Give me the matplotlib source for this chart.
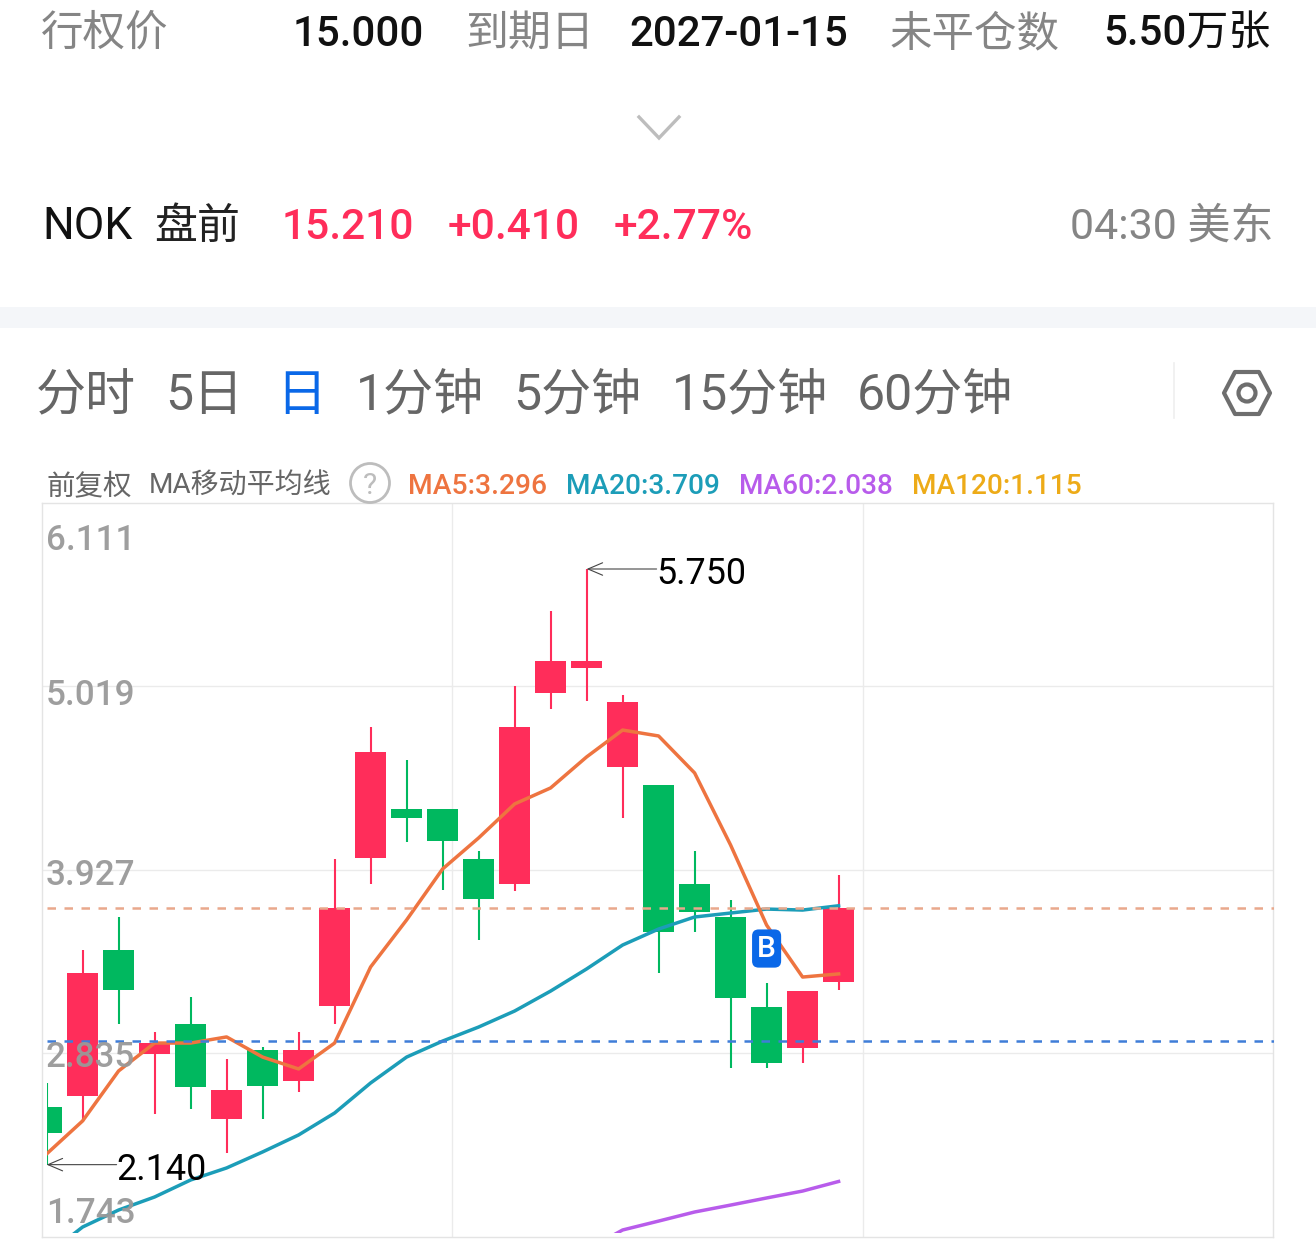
import matplotlib
matplotlib.use("Agg")
import matplotlib.pyplot as plt
from matplotlib.patches import Circle, Polygon, Rectangle

# Daily candles, oldest first
opens = [2.489, 2.556, 3.441, 2.811, 2.992, 2.417, 2.835, 2.647, 3.102, 3.998, 4.295, 4.295,
         3.992, 3.841, 4.998, 5.150, 4.550, 4.441, 3.841, 3.641, 3.095, 2.847, 3.247]
closes = [2.332, 3.302, 3.198, 2.877, 2.611, 2.592, 2.617, 2.835, 3.695, 4.641, 4.241, 4.102,
          3.750, 4.792, 5.192, 5.192, 4.944, 3.550, 3.671, 3.150, 2.756, 3.192, 3.695]
highs = [2.635, 3.441, 3.641, 2.944, 3.156, 2.780, 2.853, 2.944, 3.992, 4.792, 4.592, 4.295,
         4.041, 5.041, 5.495, 5.750, 4.986, 4.441, 4.041, 3.744, 3.241, 3.192, 3.895]
lows = [2.140, 2.398, 2.992, 2.447, 2.477, 2.211, 2.417, 2.580, 2.992, 3.841, 4.095, 3.805,
        3.502, 3.798, 4.902, 4.950, 4.241, 3.302, 3.550, 2.726, 2.726, 2.756, 3.198]

# Moving averages
ma5 = [2.205, 2.405, 2.708, 2.877, 2.877, 2.914, 2.792, 2.720, 2.877, 3.338, 3.623, 3.932,
       4.120, 4.326, 4.423, 4.611, 4.774, 4.738, 4.514, 4.077, 3.592, 3.277, 3.296]
ma20 = [1.592, 1.762, 1.865, 1.944, 2.047, 2.120, 2.217, 2.320, 2.453, 2.635, 2.792, 2.889,
        2.974, 3.071, 3.192, 3.326, 3.471, 3.568, 3.641, 3.665, 3.689, 3.683, 3.709]
ma60_start = 15
ma60 = [1.623, 1.744, 1.798, 1.853, 1.895, 1.938, 1.980, 2.038]

# Reference levels and price-scale labels
cost_level = 2.889
last_level = 3.695
scale_levels = [6.111, 5.019, 3.927, 2.835, 1.743]
month_breaks = [11.28, 22.69]
buy_index = 20
buy_price = 3.468

UP, DOWN = "#FF2D5A", "#00B85F"
MA5_C, MA20_C, MA60_C, MA120_C = "#EE7440", "#1C9DB8", "#B85CEB", "#EDAB18"
BLUE = "#0A68E8"
FONT = ["Roboto", "Noto Sans CJK SC"]
W, H = 1316, 1245
PX = 0.72  # points per pixel at 100 dpi

fig = plt.figure(figsize=(W / 100, H / 100), dpi=100, facecolor="white")


def axes_px(x0, y0, x1, y1, **kw):
    return fig.add_axes([x0 / W, 1 - y1 / H, (x1 - x0) / W, (y1 - y0) / H], **kw)


# Price grid with its own scale
xlim = (-4 / 36, (1273 - 46) / 36)
grid_ax = axes_px(42, 502.5, 1273, 1237)
grid_ax.set_xlim(*xlim)
grid_ax.set_ylim(scale_levels[-1], scale_levels[0])
grid_ax.set_yticks(scale_levels[1:-1])
grid_ax.set_xticks(month_breaks)
grid_ax.grid(True, color="#EBEBEB", lw=1.0)
grid_ax.tick_params(length=0, labelleft=False, labelbottom=False)
for s in grid_ax.spines.values():
    s.set_color("#E4E4E4")
    s.set_linewidth(1.0)

# Candles and moving averages
ax = axes_px(46.6, 503, 1273.6, 1232.5)
ax.patch.set_alpha(0)
ax.set_xlim(0, xlim[1])
ax.set_ylim(5.75 - (1232.5 - 569) / 165, 5.75 + (569 - 503) / 165)
ax.axis("off")

idx = list(range(len(opens)))
colors = [UP if c >= o else DOWN for o, c in zip(opens, closes)]
ax.vlines(idx, lows, highs, colors=colors, lw=1.5, zorder=2)
ax.bar(idx, [abs(c - o) for o, c in zip(opens, closes)],
       bottom=[min(o, c) for o, c in zip(opens, closes)],
       width=31 / 36, color=colors, linewidth=0, zorder=3)

ax.plot(idx, ma20, color=MA20_C, lw=2.5, zorder=4, solid_joinstyle="round")
ax.plot(idx, ma5, color=MA5_C, lw=2.5, zorder=5, solid_joinstyle="round")
ax.plot(range(ma60_start, ma60_start + len(ma60)), ma60, color=MA60_C, lw=2.5, zorder=4)

dash = (0, (3.4, 3.4))
ax.axhline(last_level, color="#E9A88C", lw=1.8, ls=dash, zorder=6)
ax.axhline(cost_level, color="#3F7DD8", lw=1.8, ls=dash, zorder=6)

# High and low callouts
arrow = dict(arrowstyle="->,head_length=0.75,head_width=0.32", color="#444444", lw=0.8,
             shrinkA=0, shrinkB=0, mutation_scale=14)
for i, price in [(highs.index(max(highs)), max(highs)), (lows.index(min(lows)), min(lows))]:
    ax.annotate("", xy=(i, price), xytext=(70, 0), textcoords="offset pixels",
                arrowprops=arrow, zorder=7, annotation_clip=False)
    ax.annotate(f"{price:.3f}", xy=(i, price), xytext=(70, -15), textcoords="offset pixels",
                fontsize=36 * PX, family=FONT, color="black", va="baseline", ha="left", zorder=7)

# Buy badge
ax.annotate("B", xy=(buy_index, buy_price), ha="center", va="center_baseline", color="white",
            fontsize=30 * PX, family=FONT, fontweight="medium", zorder=9,
            bbox=dict(boxstyle="round,pad=0.17,rounding_size=0.22", fc=BLUE, ec="none"))

# Page furniture, laid out in pixels
ui = fig.add_axes([0, 0, 1, 1], zorder=10)
ui.patch.set_alpha(0)
ui.set_xlim(0, W)
ui.set_ylim(H, 0)
ui.axis("off")


def label(x, y, s, size, color, ha="left", weight="normal", alpha=None):
    ui.text(x, y, s, fontsize=size * PX, color=color, ha=ha, va="baseline",
            family=FONT, fontweight=weight, alpha=alpha)


GRAY = "#858585"
label(41, 46, "行权价", 42.5, GRAY)
label(293, 46, "15.000", 42, "#111111", weight="medium")
label(465, 46, "到期日", 43, GRAY)
label(629, 46, "2027-01-15", 42, "#111111", weight="medium")
label(890, 46, "未平仓数", 42.5, GRAY)
label(1271, 46, "5.50万张", 42, "#111111", ha="right", weight="medium")

ui.plot([639, 659, 679], [117, 138, 117], color="#BDBDBD", lw=2.4, solid_joinstyle="miter")

label(42, 239, "NOK", 44.5, "#111111")
label(154, 239, "盘前", 43, "#222222")
label(281.5, 239, "15.210", 42.5, UP, weight="medium")
label(448, 239, "+0.410", 42.5, UP, weight="medium")
label(614, 239, "+2.77%", 42.5, UP, weight="medium")
label(1273, 239, "04:30 美东", 43, GRAY, ha="right")

ui.add_patch(Rectangle((0, 307), W, 21, fc="#F4F6F9", ec="none"))

TAB = "#666666"
for x, s, c in [(36, "分时", TAB), (165, "5日", TAB), (276, "日", BLUE), (356, "1分钟", TAB),
                (513, "5分钟", TAB), (672, "15分钟", TAB), (857, "60分钟", TAB)]:
    label(x, 410, s, 50, c)
ui.plot([1174, 1174], [363, 418], color="#EFEFEF", lw=1.2)
hexagon = [(1224, 393), (1235, 372), (1259, 372), (1270, 393), (1259, 414), (1235, 414)]
ui.add_patch(Polygon(hexagon, closed=True, fc="none", ec="#6E6E6E", lw=3.0, joinstyle="round"))
ui.add_patch(Circle((1247, 393), 8.5, fc="none", ec="#6E6E6E", lw=3.0))

label(46, 494, "前复权", 28.5, "#666666")
label(149, 494, "MA移动平均线", 28, "#666666")
ui.add_patch(Circle((370, 483), 19.5, fc="none", ec="#BDBDBD", lw=2.0))
label(370, 494, "?", 30, "#BDBDBD", ha="center")
label(408, 494, "MA5:3.296", 28.3, MA5_C, weight="medium")
label(566, 494, "MA20:3.709", 28, MA20_C, weight="medium")
label(739, 494, "MA60:2.038", 28, MA60_C, weight="medium")
label(912, 494, "MA120:1.115", 28, MA120_C, weight="medium")

for v, base in zip(scale_levels, [550, 705, 885, 1067, 1223]):
    label(46, base, f"{v:.3f}", 35, "#999999", weight="medium", alpha=0.95)

fig.savefig("out.png", dpi=100, facecolor="white")
